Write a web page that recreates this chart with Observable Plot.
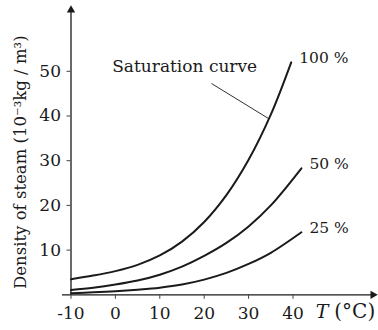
<!DOCTYPE html>
<html><head><meta charset="utf-8">
<script src="https://cdn.jsdelivr.net/npm/d3@7"></script>
<script src="https://cdn.jsdelivr.net/npm/@observablehq/plot@0.6"></script>
<style>body{margin:0;background:#fff}</style>
</head><body><div id="chart"></div>
<script>
// Temperatures (°C) sampled along each curve
const temps100 = [-10, -5, 0, 5, 10, 15, 20, 25, 30, 35, 39.6];
const temps50  = [-10, -5, 0, 5, 10, 15, 20, 25, 30, 35, 41.9];
const temps25  = [-10, -5, 0, 5, 10, 15, 20, 25, 30, 35, 41.9];
// Density of steam (10^-3 kg/m^3)
const density100 = [3.5, 4.3, 5.3, 6.7, 8.8, 11.9, 16.3, 22.3, 30.2, 40.3, 52];
const density50  = [1.1, 1.6, 2.3, 3.2, 4.5, 6.3, 8.7, 11.6, 15.3, 20.0, 28.3];
const density25  = [0.36, 0.55, 0.8, 1.15, 1.6, 2.3, 3.4, 4.9, 6.9, 9.4, 14.0];
const seriesNames = ["100 %", "50 %", "25 %"];
const xTicks = [-10, 0, 10, 20, 30, 40];
const yTicks = [10, 20, 30, 40, 50];
const yLabel = "Density of steam (10\u207B\u00B3kg / m\u00B3)";
const annotation = "Saturation curve";
const xLabelVar = "T";
const xLabelUnit = "(°C)";

const rows = [];
[[temps100, density100], [temps50, density50], [temps25, density25]].forEach(([ts, vs], k) => {
  ts.forEach((t, i) => rows.push({series: seriesNames[k], T: t, v: vs[i]}));
});

const xMin = -10, xArrow = 58, yArrow = 63.7;
const ink = "#1a1a1a";

const chart = Plot.plot({
  width: 378, height: 330,
  marginLeft: 70.5, marginRight: 0, marginTop: 0, marginBottom: 35.7,
  x: {domain: [-10, 59.26]},
  y: {domain: [0, 65.84]},
  style: {fontFamily: "DejaVu Serif", fontSize: "17px", color: ink, background: "#fff"},
  marks: [
    Plot.ruleY([0], {x1: -11.9, x2: xArrow, stroke: ink, strokeWidth: 1.3}),
    Plot.ruleX([xMin], {y1: 0, y2: yArrow, stroke: ink, strokeWidth: 1.3}),
    Plot.dot([{x: xArrow, y: 0}], {x: "x", y: "y", symbol: "triangle", rotate: 90, r: 3.1, fill: ink, stroke: null}),
    Plot.dot([{x: xMin, y: yArrow}], {x: "x", y: "y", symbol: "triangle", r: 3.1, fill: ink, stroke: null}),
    Plot.axisX({ticks: xTicks, tickSize: 4.5, tickPadding: 8, label: null, tickFormat: d => String(d), stroke: "#444", fontSize: 17}),
    Plot.axisY({ticks: yTicks, tickSize: 4, tickPadding: 6, label: null, stroke: "#444", fontSize: 17}),
    Plot.line(rows, {x: "T", y: "v", z: "series", curve: "catmull-rom", stroke: ink, strokeWidth: 2}),
    Plot.text(rows, Plot.selectLast({x: "T", y: "v", z: "series", text: "series", textAnchor: "start", dx: 8, dy: -4, fontSize: 15.5})),
    Plot.text([annotation], {x: -0.72, y: 51.1, textAnchor: "start", fontSize: 17}),
    Plot.link([{x1: 21.64, y1: 47.27, x2: 34.48, y2: 39.44}], {x1: "x1", y1: "y1", x2: "x2", y2: "y2", stroke: ink, strokeWidth: 0.9}),
    Plot.text([xLabelVar], {x: 45.1, y: 0, dy: 17, textAnchor: "start", fontStyle: "italic", fontSize: 19}),
    Plot.text([xLabelUnit], {x: 49.3, y: 0, dy: 17, textAnchor: "start", fontSize: 20}),
    Plot.text([yLabel], {frameAnchor: "left", textAnchor: "middle", rotate: -90, dx: -50, dy: 14.5, fontSize: 16.5})
  ]
});
document.getElementById("chart").appendChild(chart);
</script>
</body></html>
